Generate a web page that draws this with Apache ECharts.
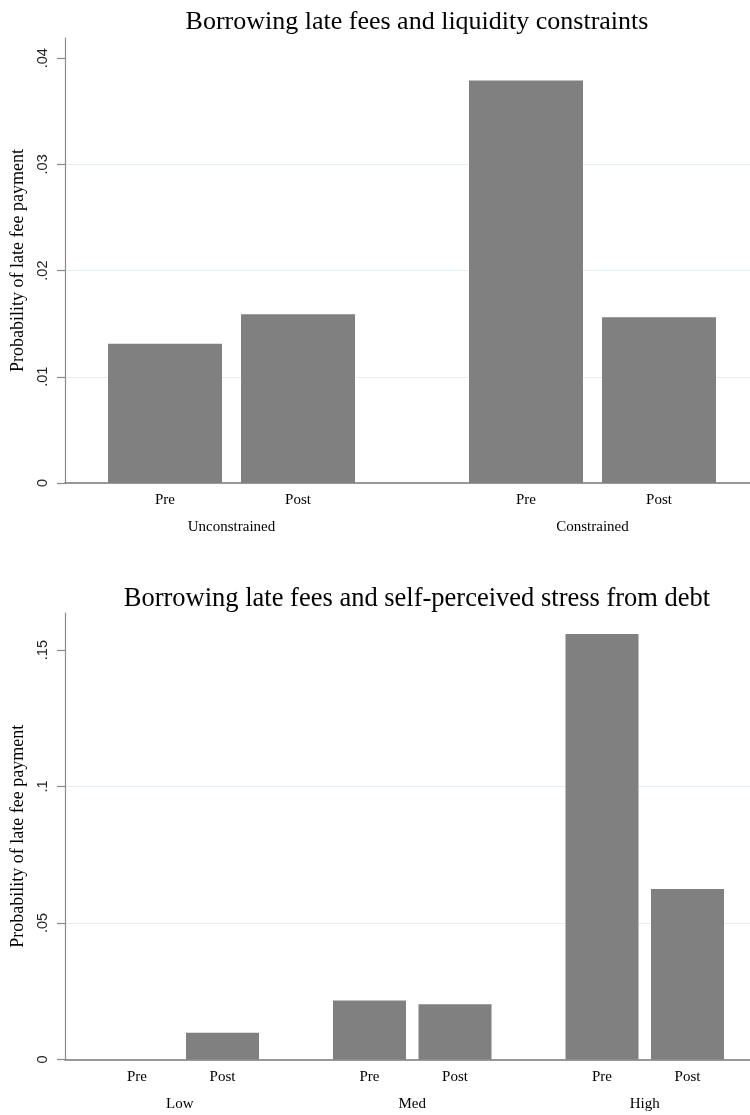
<!DOCTYPE html>
<html>
<head>
<meta charset="utf-8">
<script src="https://cdn.jsdelivr.net/npm/echarts@6/dist/echarts.min.js"></script>
<style>
html,body{margin:0;padding:0;background:#fff;}
#chart{width:750px;height:1115px;}
</style>
</head>
<body>
<div id="chart"></div>
<script>
// ---------- data ----------
const periods = ['Pre', 'Post'];

const titleTop = 'Borrowing late fees and liquidity constraints';
const groupsTop = ['Unconstrained', 'Constrained'];
const preTop = [0.0131, 0.0379];
const postTop = [0.0159, 0.0156];
const ticksTop = [0, 0.01, 0.02, 0.03, 0.04];
const tickLabelsTop = ['0', '.01', '.02', '.03', '.04'];
const maxTop = 0.0419;

const titleBottom = 'Borrowing late fees and self-perceived stress from debt';
const groupsBottom = ['Low', 'Med', 'High'];
const preBottom = [0, 0.0216, 0.1559];
const postBottom = [0.0098, 0.0202, 0.0625];
const ticksBottom = [0, 0.05, 0.1, 0.15];
const tickLabelsBottom = ['0', '.05', '.1', '.15'];
const maxBottom = 0.1636;

const yTitle = 'Probability of late fee payment';

// ---------- style / layout ----------
const SERIF = '"Liberation Serif", "DejaVu Serif", serif';
const SANS = '"Liberation Sans", "DejaVu Sans", sans-serif';
const BAR = '#808080';
const AXIS = '#8a8a8a';
const GRIDC = '#e6eef0';
const AXIS_X = 65;

const panels = [
  { title: titleTop, titleTopPx: 4, titleSize: 26, groups: groupsTop, pre: preTop, post: postTop,
    ticks: ticksTop, labels: tickLabelsTop, max: maxTop,
    top: 38, bottom: 483, firstLeft: 98.5, step: 361, width: 266, barWidth: 114 },
  { title: titleBottom, titleTopPx: 581, titleSize: 26.5, groups: groupsBottom, pre: preBottom, post: postBottom,
    ticks: ticksBottom, labels: tickLabelsBottom, max: maxBottom,
    top: 613, bottom: 1059.5, firstLeft: 94.25, step: 232.5, width: 171, barWidth: 73 }
];

const option = { animation: false, title: [], grid: [], xAxis: [], yAxis: [], series: [] };

panels.forEach(p => {
  option.title.push({
    text: p.title, left: 412, top: p.titleTopPx, textAlign: 'center',
    textStyle: { fontFamily: SERIF, fontSize: p.titleSize, fontWeight: 'normal', color: '#000' }
  });
  // background grid: y axis, ticks, gridlines, baseline
  const bg = option.grid.length;
  option.grid.push({ left: AXIS_X, right: 0, top: p.top, height: p.bottom - p.top });
  option.xAxis.push({
    gridIndex: bg, type: 'value', min: 0, max: 1,
    axisLine: { show: true, onZero: false, lineStyle: { color: '#777', width: 1.5 } },
    axisTick: { show: false }, axisLabel: { show: false }, splitLine: { show: false }
  });
  const labelMap = {};
  p.ticks.forEach((t, i) => { labelMap[t.toFixed(4)] = p.labels[i]; });
  option.yAxis.push({
    gridIndex: bg, type: 'value', min: 0, max: p.max,
    name: yTitle, nameLocation: 'middle', nameGap: 36,
    nameTextStyle: { fontFamily: SERIF, fontSize: 18, color: '#000' },
    axisLine: { show: true, lineStyle: { color: AXIS, width: 1.2 } },
    axisTick: { show: true, length: 8, customValues: p.ticks, lineStyle: { color: AXIS, width: 1.2 } },
    axisLabel: {
      customValues: p.ticks, rotate: 90, margin: 15,
      fontFamily: SANS, fontSize: 14.5, color: '#222',
      formatter: v => labelMap[Number(v).toFixed(4)] || ''
    },
    splitLine: { show: true, showMinLine: false, showMaxLine: false, lineStyle: { color: GRIDC, width: 1.2 } }
  });
  // one grid per group for the bars
  p.groups.forEach((g, gi) => {
    const idx = option.grid.length;
    option.grid.push({ left: p.firstLeft + gi * p.step, width: p.width, top: p.top, height: p.bottom - p.top });
    option.xAxis.push({
      gridIndex: idx, type: 'category', data: periods,
      name: g, nameLocation: 'middle', nameGap: 37,
      nameTextStyle: { fontFamily: SERIF, fontSize: 15, color: '#000' },
      axisLine: { show: false }, axisTick: { show: false },
      axisLabel: { margin: 10, fontFamily: SERIF, fontSize: 15, color: '#000' }
    });
    option.yAxis.push({ gridIndex: idx, type: 'value', min: 0, max: p.max, show: false });
    option.series.push({
      type: 'bar', xAxisIndex: idx, yAxisIndex: idx,
      data: [p.pre[gi], p.post[gi]], barWidth: p.barWidth,
      itemStyle: { color: BAR }, silent: true
    });
  });
});

const chart = echarts.init(document.getElementById('chart'), null, { renderer: 'canvas' });
chart.setOption(option);
</script>
</body>
</html>
